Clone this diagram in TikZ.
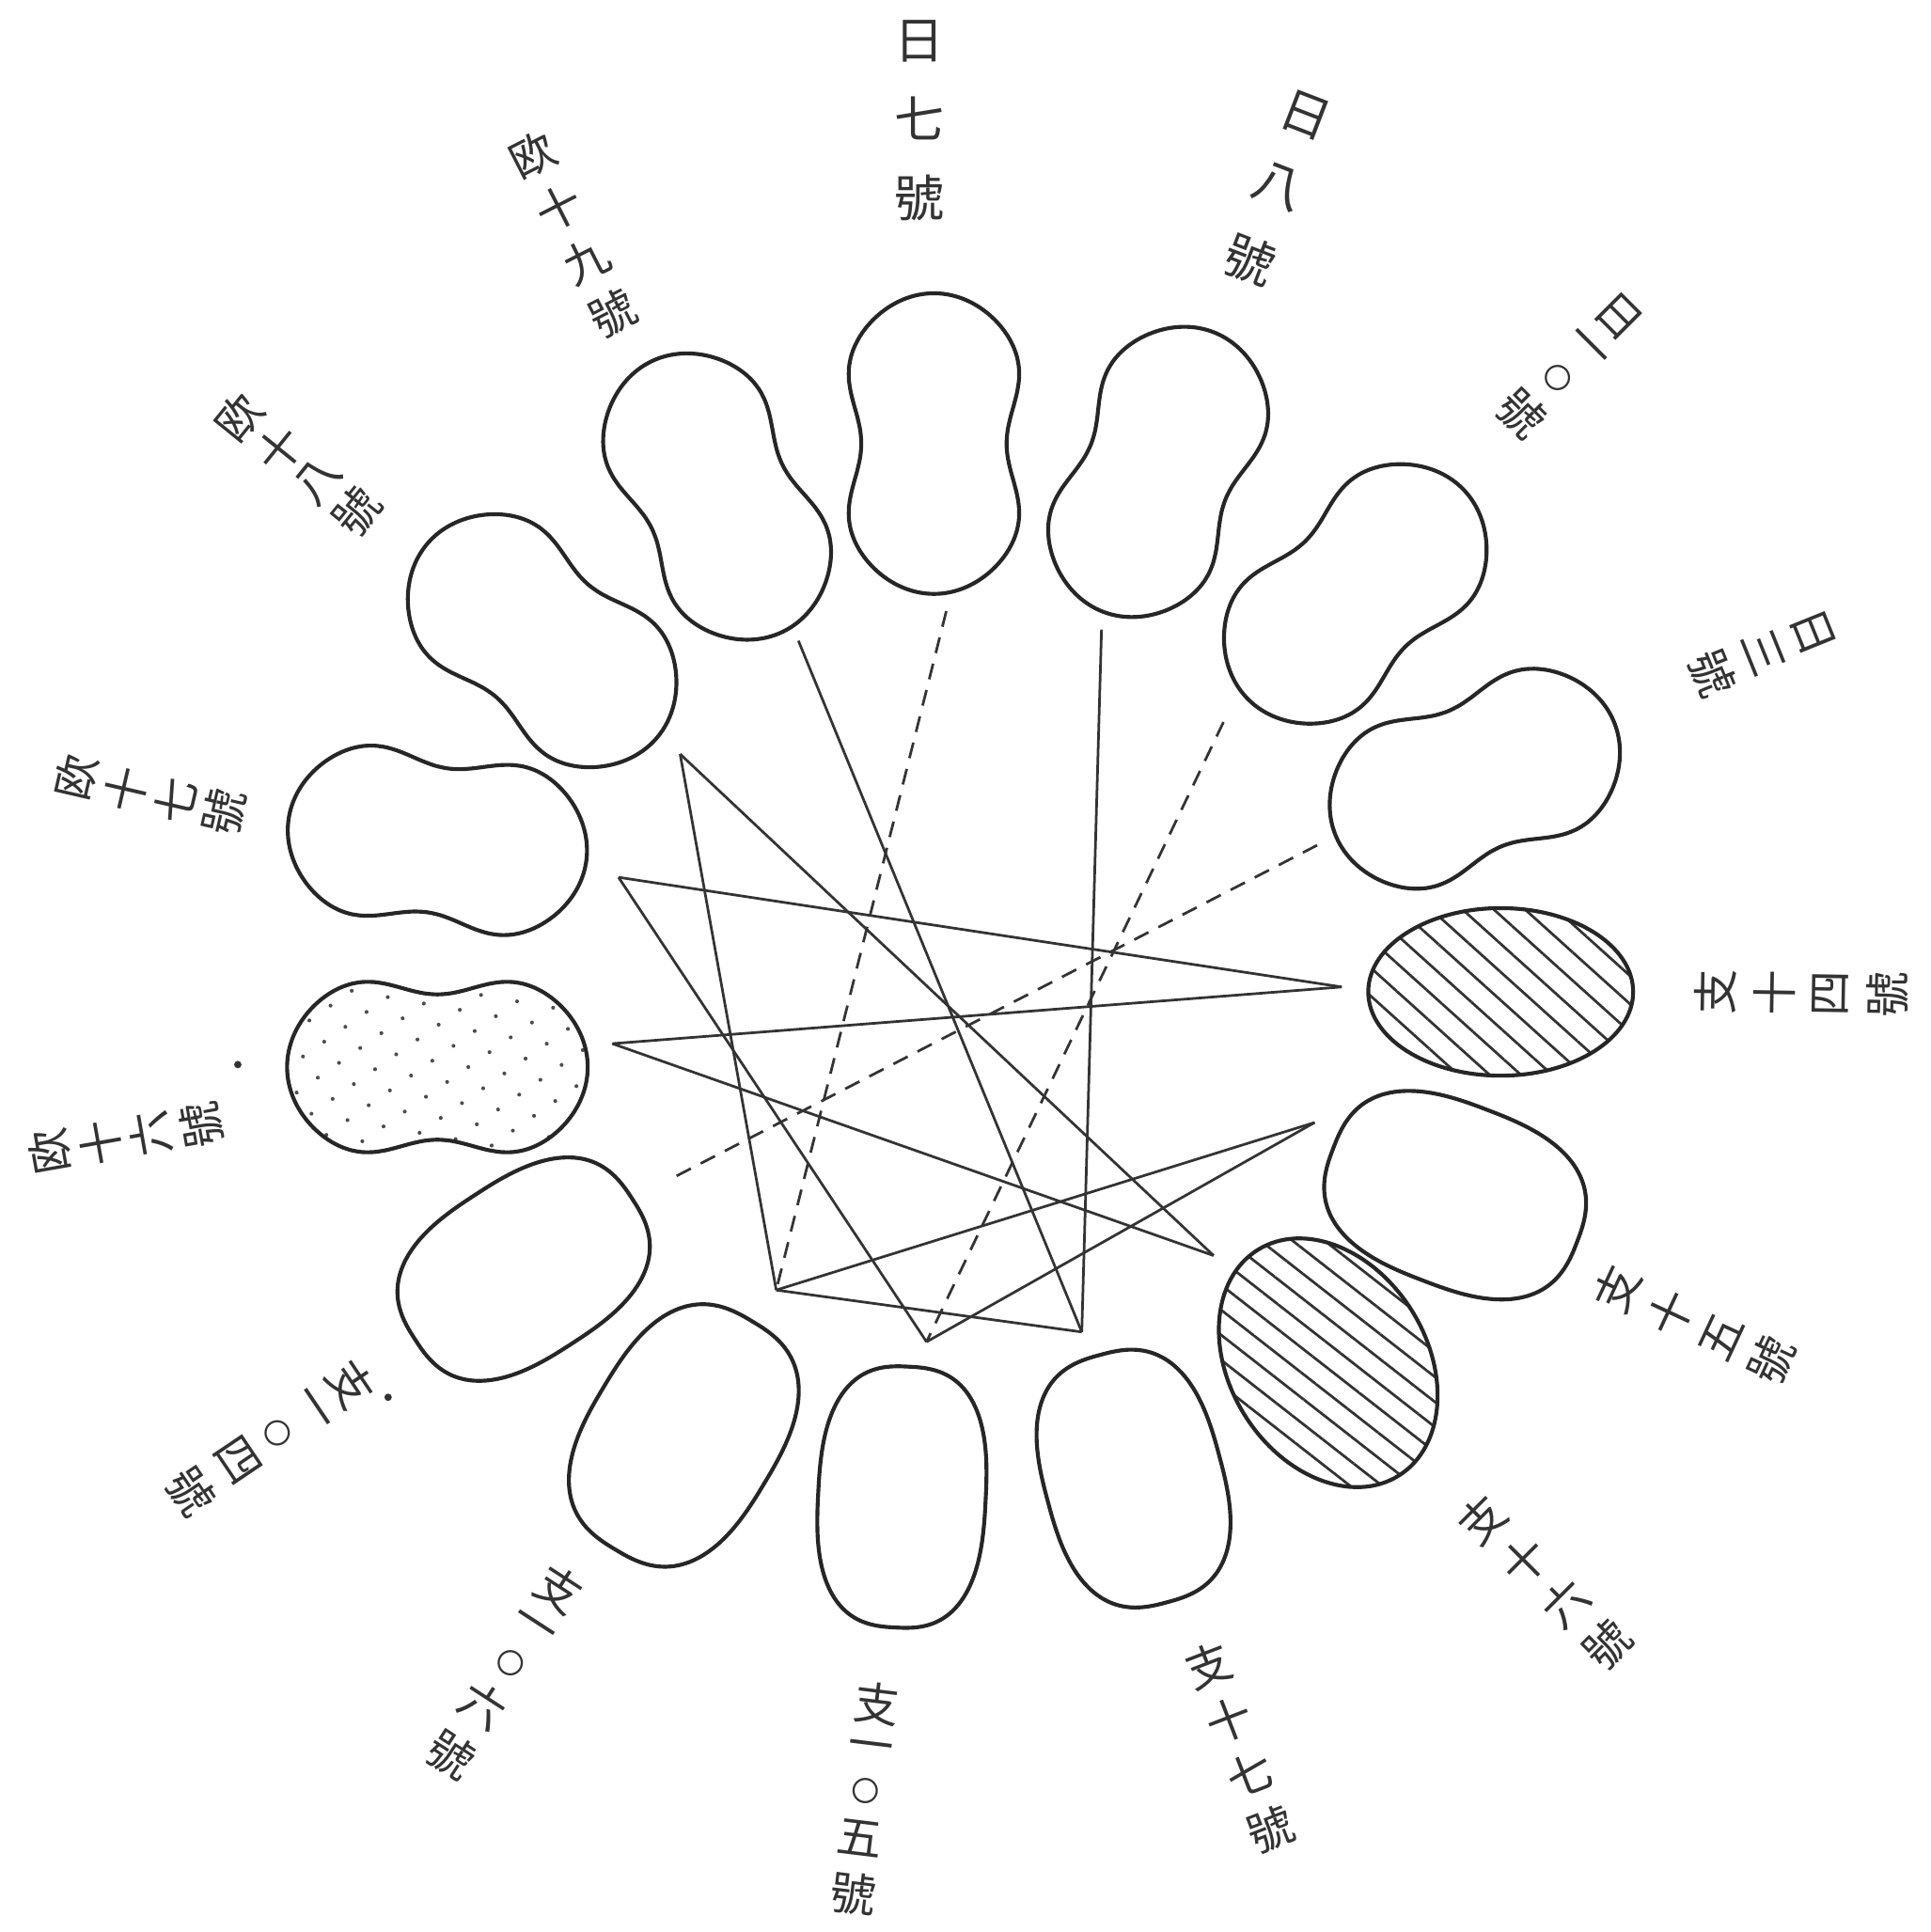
\documentclass[tikz,border=0pt]{standalone}
\usepackage{fontspec}
\newfontfamily\cjk{Noto Sans CJK JP}
\usetikzlibrary{patterns.meta}

\newcommand{\setcol}[1]{\lineskiplimit=0pt\lineskip=#1\relax}
\newcommand{\ling}{{\fontsize{6.5}{0pt}\selectfont 〇}}

\tikzstyle{outline} = [draw=black!85, line width=0.9pt]
\tikzstyle{hatched} = [outline, pattern color=black!80]
\tikzstyle{speckled} = [outline, pattern={Dots[angle=35,distance=2.1mm,radius=0.45pt]}, pattern color=black!70]
\tikzstyle{cross} = [draw=black!80, line width=0.6pt]
\tikzstyle{weak} = [cross, dash pattern=on 1.3mm off 0.9mm]
\tikzstyle{strain} = [font={\cjk\fontsize{10.5}{0pt}\selectfont\setcol{4pt}}, align=center, text=black!80, inner sep=0pt]
\tikzstyle{short} = [font={\cjk\fontsize{11.5}{0pt}\selectfont\setcol{8pt}}]
\tikzstyle{tight} = [font={\cjk\fontsize{10.5}{0pt}\selectfont\setcol{2.2pt}}]

% peanut: style, x, y, angle of the long axis
\newcommand{\peanut}[4][outline]{%
  \path[#1, shift={(#2,#3)}, rotate=#4] plot[domain=0:355, samples=72, smooth cycle]
    ({122*cos(\x)}, {88*sin(\x)*(1-0.33*exp(-cos(\x)*cos(\x)/0.2))});}
% bean: x, y, angle, half length, half width
\newcommand{\bean}[5]{%
  \path[outline, shift={(#1,#2)}, rotate=#3] plot[domain=2.5:357.5, samples=72, smooth cycle]
    ({#4*cos(\x)*abs(cos(\x))^(-0.25)}, {#5*sin(\x)*abs(sin(\x))^(-0.25)});}

\begin{document}
\begin{tikzpicture}[x=0.1mm, y=-0.1mm]
\useasboundingbox (0,0) rectangle (1567,1568);

% Japanese strains
\peanut{758}{360}{90}
\peanut{940}{383}{68}
\peanut{1100}{482}{44}
\peanut{1197}{632}{22}

% Chinese strains
\path[hatched, pattern={Lines[angle=-42,distance=1.7mm,line width=0.6pt]}] (1218,805) ellipse [x radius=10.75mm, y radius=6.8mm];
\bean{1181}{970}{-21}{106}{74}
\path[hatched, pattern={Lines[angle=-38,distance=1.6mm,line width=0.6pt]}, shift={(1078,1106)}, rotate=-58] (0,0) ellipse [x radius=10.8mm, y radius=8mm];
\bean{920}{1200}{-75}{104}{72}
\bean{732}{1215}{-93}{106}{68}
\bean{555}{1165}{-121}{108}{76}
\bean{425}{1030}{-147}{105}{72}

% European strains
\peanut[speckled]{355}{866}{180}
\peanut{355}{682}{172}
\peanut{440}{520}{140}
\peanut{582}{403}{116}

% Labels
\node[strain, short, rotate=0] (LabJ7) at (746,98) {日\\七\\號};
\node[strain, short, rotate=-21] (LabJ8) at (1037,153) {日\\八\\號};
\node[strain, rotate=-45] (LabJ10) at (1274,297) {日\\一\\\ling\\號};
\node[strain, rotate=-68] (LabJ13) at (1430,530) {日\\三\\號};
\node[strain, rotate=89] (LabC14) at (1462,806) {支\\十\\四\\號};
\node[strain, rotate=65] (LabC15) at (1375,1075) {支\\十\\五\\號};
\node[strain, rotate=45] (LabC16) at (1254,1284) {支\\十\\六\\號};
\node[strain, rotate=21] (LabC17) at (1006,1418) {支\\十\\七\\號};
\node[strain, rotate=-7] (LabC105) at (702,1460) {支\\一\\\ling\\五\\號};
\node[strain, rotate=-33] (LabC106) at (410,1357) {支\\一\\\ling\\六\\號};
\node[strain, rotate=-56] (LabC104) at (220,1167) {支\\一\\\ling\\四\\號};
\node[strain, tight, rotate=100] (LabE16) at (102,924) {欧\\十\\六\\號};
\node[strain, tight, rotate=77] (LabE17) at (122,645) {欧\\十\\七\\號};
\node[strain, tight, rotate=51] (LabE18) at (242,377) {欧\\十\\八\\號};
\node[strain, rotate=27] (LabE19) at (465,190) {欧\\十\\九\\號};
\fill[black!80] (315,1134) circle [radius=0.3mm];
\fill[black!80] (193,864) circle [radius=0.3mm];

% Ends of the crossing lines
\coordinate (J7) at (768,496);
\coordinate (J8) at (894,511);
\coordinate (J10) at (993,586);
\coordinate (J13) at (1069,686);
\coordinate (C14) at (1089,801);
\coordinate (C15) at (1067,911);
\coordinate (C16) at (985,1019);
\coordinate (C17) at (878,1081);
\coordinate (C105) at (752,1089);
\coordinate (C106) at (630,1047);
\coordinate (C104) at (544,957);
\coordinate (E16) at (497,847);
\coordinate (E17) at (502,712);
\coordinate (E18) at (552,612);
\coordinate (E19) at (648,520);

% Crossings
\path[cross] (E19) -- (C17);
\path[cross] (E18) -- (C106);
\path[cross] (E18) -- (C16);
\path[cross] (E17) -- (C14);
\path[cross] (E17) -- (C105);
\path[cross] (E16) -- (C14);
\path[cross] (E16) -- (C16);
\path[cross] (J8) -- (C17);
\path[cross] (C15) -- (C106);
\path[cross] (C15) -- (C105);
\path[cross] (C106) -- (C17);
\path[weak] (J7) -- (C106);
\path[weak] (J10) -- (C105);
\path[weak] (J13) -- (C104);

\end{tikzpicture}
\end{document}
